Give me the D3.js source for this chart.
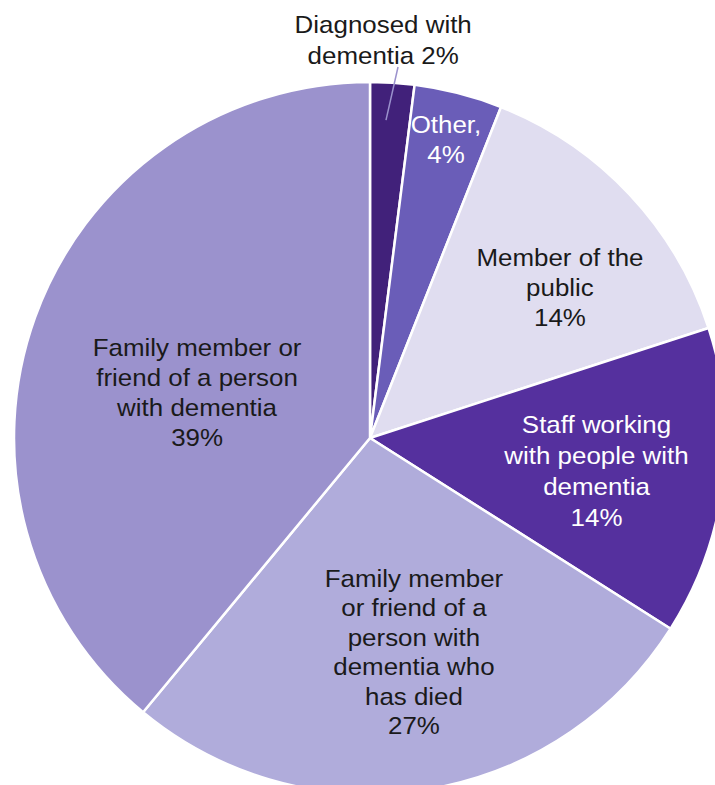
<!DOCTYPE html>
<html>
<head>
<meta charset="utf-8">
<script src="https://cdn.jsdelivr.net/npm/d3@7/dist/d3.min.js"></script>
<style>
  html, body { margin: 0; padding: 0; background: #fff; }
  svg { display: block; }
  text { font-family: "Liberation Sans", Arial, sans-serif; font-size: 24px; }
</style>
</head>
<body>
<svg id="chart" width="715" height="785"></svg>
<script>
// Respondent groups, in clockwise order from 12 o'clock
const categories = [
  "Diagnosed with dementia",
  "Other",
  "Member of the public",
  "Staff working with people with dementia",
  "Family member or friend of a person with dementia who has died",
  "Family member or friend of a person with dementia"
];
const values = [2, 4, 14, 14, 27, 39];

// Label text lines per slice
const labelLines = [
  ["Diagnosed with", "dementia 2%"],
  ["Other,", "4%"],
  ["Member of the", "public", "14%"],
  ["Staff working", "with people with", "dementia", "14%"],
  ["Family member", "or friend of a", "person with", "dementia who", "has died", "27%"],
  ["Family member or", "friend of a person", "with dementia", "39%"]
];

// Styling and label placement (angle in degrees from north, radius as fraction of pie radius)
const colors = ["#41217a", "#6a5db8", "#e0ddf0", "#55309e", "#b0acdb", "#9b92cd"];
const textColors = ["#1a1a1a", "#ffffff", "#1a1a1a", "#ffffff", "#1a1a1a", "#1a1a1a"];
const labelAngle = [1.9, 14.3, 51.7, 98.3, 168.4, 284.6];
const labelRadius = [1.118, 0.864, 0.68, 0.643, 0.614, 0.502];
const lineHeight = [31, 30, 30, 31, 29.5, 30];
const textStretch = 1.08;

const svg = d3.select("#chart");
const cx = 370, cy = 438, R = 356;
const g = svg.append("g").attr("transform", `translate(${cx},${cy})`);

const pie = d3.pie().sort(null).value(d => d.value);
const data = categories.map((c, i) => ({ name: c, value: values[i], i }));
const arcs = pie(data);
const arc = d3.arc().innerRadius(0).outerRadius(R);

g.selectAll("path.slice")
  .data(arcs)
  .join("path")
  .attr("class", "slice")
  .attr("d", arc)
  .attr("fill", d => colors[d.data.i])
  .attr("stroke", "#ffffff")
  .attr("stroke-width", 2.5)
  .attr("stroke-linejoin", "round");

const polar = (deg, r) => {
  const a = deg * Math.PI / 180;
  return [Math.sin(a) * r, -Math.cos(a) * r];
};

// Leader line for the small outside-labelled slice
const small = arcs[0];
const midDeg = (small.startAngle + small.endAngle) / 2 * 180 / Math.PI;
const p0 = polar(midDeg * 0.8, R * 0.894);
const p1 = polar(midDeg * 1.2, R * 1.045);
g.append("line")
  .attr("x1", p0[0]).attr("y1", p0[1])
  .attr("x2", p1[0]).attr("y2", p1[1])
  .attr("stroke", "#9b92cd")
  .attr("stroke-width", 1.5);

// Slice labels
arcs.forEach(d => {
  const i = d.data.i;
  const [x, y] = polar(labelAngle[i], R * labelRadius[i]);
  const lines = labelLines[i];
  const lh = lineHeight[i];
  const t = g.append("text")
    .attr("transform", `translate(${x},${y}) scale(${textStretch},1)`)
    .attr("text-anchor", "middle")
    .attr("fill", textColors[i]);
  lines.forEach((ln, k) => {
    t.append("tspan")
      .attr("x", 0)
      .attr("y", (k - (lines.length - 1) / 2) * lh)
      .attr("dy", "0.35em")
      .text(ln);
  });
});
</script>
</body>
</html>
